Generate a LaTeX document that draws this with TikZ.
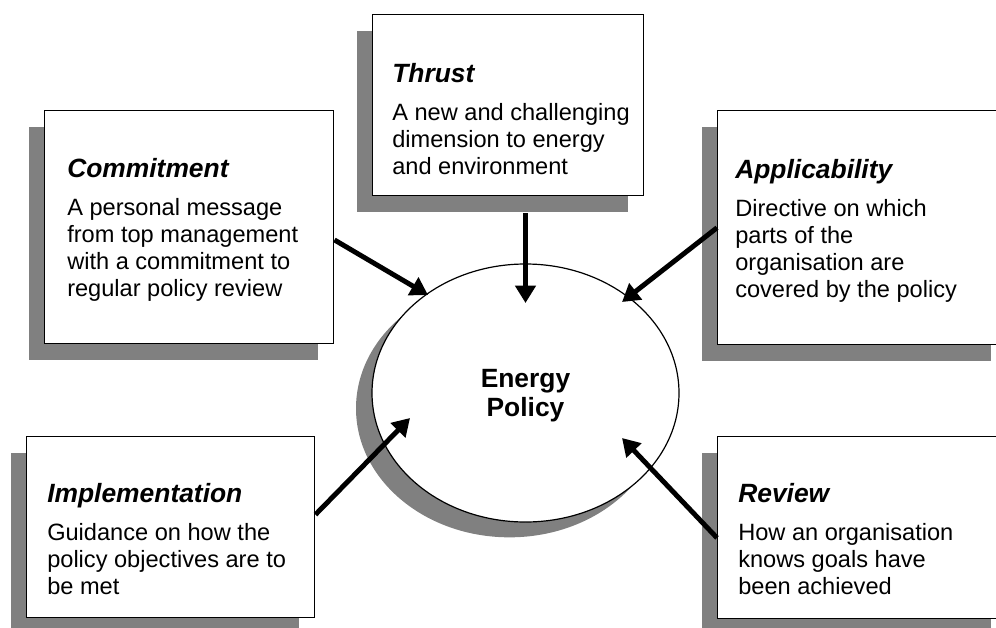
\documentclass[tikz,border=0pt]{standalone}
\usepackage{fontspec}
\setmainfont{Liberation Sans}
\usetikzlibrary{shapes.geometric, shadows, arrows.meta, positioning}

\definecolor{shadowgray}{RGB}{128,128,128}

\newcommand{\boxtitle}[1]{{\fontsize{19.8}{20.25}\selectfont\bfseries\itshape #1}}

\begin{document}
\begin{tikzpicture}[x=0.75pt, y=-0.75pt,
    box/.style={
        draw,
        line width=1.1pt,
        fill=white,
        inner sep=0pt,
        anchor=north west,
        drop shadow={shadow xshift=-12pt, shadow yshift=-12pt,
                     fill=shadowgray, opacity=1}
    },
    boxtext/.style={
        anchor=base west,
        inner sep=0pt,
        align=left,
        font=\fontsize{17.7}{20.25}\selectfont
    },
    feed/.style={
        line width=3.7pt,
        -{Triangle[length=13pt, width=15pt]}
    }
]

\useasboundingbox (0,0) rectangle (996,628);
\clip (0,0) rectangle (996,628);

%%%%%%%%%%%%%%%%%%%%%%%%
% Central ellipse
%%%%%%%%%%%%%%%%%%%%%%%%

\node[ellipse, draw, line width=0.9pt, fill=white, inner sep=0pt,
      minimum width=230.25pt, minimum height=193.5pt, align=center,
      text depth=0pt,
      font=\fontsize{19.8}{21.75}\selectfont\bfseries,
      drop shadow={shadow xshift=-12pt, shadow yshift=-11.5pt,
                   fill=shadowgray, opacity=1}]
    (policy) at (525.5,393) {Energy\\Policy};

%%%%%%%%%%%%%%%%%%%%%%%%
% Surrounding boxes
%%%%%%%%%%%%%%%%%%%%%%%%

% base west sits on the last line, so the shift runs down to it

% --- Commitment ---
\node[box, minimum width=216.75pt, minimum height=174.75pt] (commit) at (44,110) {};
\node[boxtext] (commit-text) at ([xshift=17.25pt, yshift=-139.5pt]commit.north west)
    {\boxtitle{Commitment}\\[8.25pt]
     A personal message\\ from top management\\
     with a commitment to\\ regular policy review};

% --- Thrust ---
\node[box, minimum width=203.25pt, minimum height=135.75pt] (thrust) at (372,14) {};
\node[boxtext] (thrust-text) at ([xshift=15pt, yshift=-120pt]thrust.north west)
    {\boxtitle{Thrust}\\[8.25pt]
     A new and challenging\\ dimension to energy\\ and environment};

% --- Applicability ---
\node[box, minimum width=216.75pt, minimum height=175.5pt] (apply) at (717,110) {};
\node[boxtext] (apply-text) at ([xshift=13.5pt, yshift=-140.25pt]apply.north west)
    {\boxtitle{Applicability}\\[8.25pt]
     Directive on which\\ parts of the\\ organisation are\\ covered by the policy};

% --- Implementation ---
\node[box, minimum width=216pt, minimum height=135.75pt] (impl) at (26,436) {};
\node[boxtext] (impl-text) at ([xshift=15.75pt, yshift=-118.5pt]impl.north west)
    {\boxtitle{Implementation}\\[8.25pt]
     Guidance on how the\\ policy objectives are to\\ be met};

% --- Review ---
\node[box, minimum width=216.75pt, minimum height=136.5pt] (review) at (717,436) {};
\node[boxtext] (review-text) at ([xshift=15.75pt, yshift=-118.5pt]review.north west)
    {\boxtitle{Review}\\[8.25pt]
     How an organisation\\ knows goals have\\ been achieved};

%%%%%%%%%%%%%%%%%%%%%%%%
% Arrows into the policy
%%%%%%%%%%%%%%%%%%%%%%%%

% --- Arrow ends inside the ellipse ---
\coordinate (commit-in) at ([xshift=-73.1pt, yshift=73.5pt]policy.center);
\coordinate (thrust-in) at ([yshift=67.5pt]policy.center);
\coordinate (apply-in)  at ([xshift=72.4pt, yshift=68.25pt]policy.center);
\coordinate (impl-in)   at ([xshift=-86.6pt, yshift=-18.75pt]policy.center);
\coordinate (review-in) at ([xshift=72.4pt, yshift=-33.75pt]policy.center);

\draw[feed] (commit.-5) -- (commit-in);
\draw[feed, shorten <=12.75pt] (thrust.south -| thrust-in) -- (thrust-in);
\draw[feed] (apply.west) -- (apply-in);
\draw[feed] (impl.5) -- (impl-in);
\draw[feed] (review.184) -- (review-in);

\end{tikzpicture}
\end{document}
